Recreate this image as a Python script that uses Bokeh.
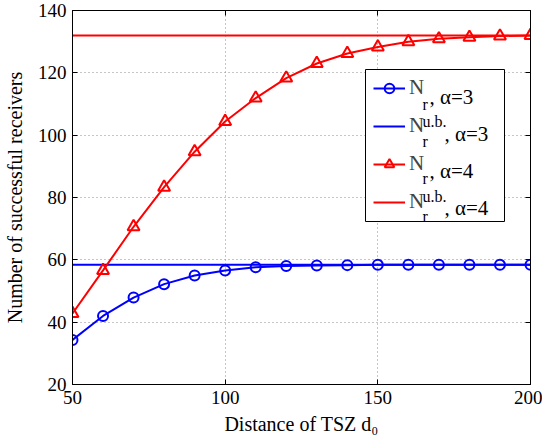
from bokeh.plotting import figure
from bokeh.models import (Range1d, LinearAxis, Legend, LegendItem, Label, FixedTicker, BoxAnnotation)
from bokeh.embed import file_html
from bokeh.resources import INLINE

# ---- data ----
d0 = [50, 60, 70, 80, 90, 100, 110, 120, 130, 140, 150, 160, 170, 180, 190, 200]
nr_a3 = [34.3, 42.0, 47.9, 52.2, 55.0, 56.6, 57.6, 58.0, 58.2, 58.3, 58.4, 58.4, 58.4, 58.4, 58.4, 58.4]
nr_a4 = [42.8, 56.6, 70.6, 83.3, 94.7, 104.4, 111.9, 118.3, 123.0, 126.2, 128.3, 130.0, 130.9, 131.4, 131.8, 132.0]
ub_x = [50, 200]
ub_a3 = [58.4, 58.4]
ub_a4 = [132.0, 132.0]
x_ticks = [50, 100, 150, 200]
y_ticks = [20, 40, 60, 80, 100, 120, 140]

FONT = "Liberation Serif"
BLUE = "#0000FF"
RED = "#FF0000"

FL, FB = 70, 384  # frame left / bottom in canvas px

p = figure(width=542, height=443, output_backend="svg", toolbar_location=None,
           x_range=Range1d(50, 200), y_range=Range1d(20, 140),
           min_border_left=FL, min_border_right=12, min_border_top=10, min_border_bottom=443 - FB)
p.outline_line_color = "black"
p.outline_line_width = 1

for g in (p.xgrid, p.ygrid):
    g.grid_line_color = "#8c8c8c"
    g.grid_line_dash = "1 3"
    g.grid_line_width = 1
p.xgrid.ticker = FixedTicker(ticks=x_ticks)
p.ygrid.ticker = FixedTicker(ticks=y_ticks)

def style_axis(ax, ticks, labels=True):
    ax.ticker = FixedTicker(ticks=ticks)
    ax.axis_line_color = "black"
    ax.axis_line_width = 1
    ax.major_tick_in = 5
    ax.major_tick_out = 0
    ax.major_tick_line_color = "black"
    ax.minor_tick_line_color = None
    ax.major_label_text_font = FONT
    ax.major_label_text_font_size = "19px"
    ax.major_label_text_color = "black"
    ax.axis_label_text_font = FONT
    ax.axis_label_text_font_size = "20px"
    ax.axis_label_text_font_style = "normal"
    ax.axis_label_text_color = "black"
    if not labels:
        ax.major_label_overrides = {t: "" for t in ticks}
        ax.major_label_standoff = 0

style_axis(p.xaxis[0], x_ticks)
style_axis(p.yaxis[0], y_ticks)
p.xaxis[0].axis_label = "Distance of TSZ d\u2080"
p.yaxis[0].axis_label = "Number of successful receivers"
p.xaxis[0].major_label_standoff = 6
p.yaxis[0].major_label_standoff = 6
p.xaxis[0].axis_label_standoff = 6
p.yaxis[0].axis_label_standoff = 9

top_ax = LinearAxis()
style_axis(top_ax, x_ticks, labels=False)
p.add_layout(top_ax, "above")
right_ax = LinearAxis()
style_axis(right_ax, y_ticks, labels=False)
p.add_layout(right_ax, "right")

# ---- series ----
l1 = p.line(d0, nr_a3, line_color=BLUE, line_width=2)
m1 = p.scatter(d0, nr_a3, marker="circle", size=10, line_color=BLUE, line_width=2, fill_alpha=0)
l2 = p.line(ub_x, ub_a3, line_color=BLUE, line_width=2)
l3 = p.line(d0, nr_a4, line_color=RED, line_width=2)
m3 = p.scatter(d0, nr_a4, marker="triangle", size=12, line_color=RED, line_width=2, fill_alpha=0)
l4 = p.line(ub_x, ub_a4, line_color=RED, line_width=2)

# legend box behind
box = BoxAnnotation(left=363 - FL, right=502 - FL, top=FB - 69, bottom=FB - 221,
                    left_units="screen", right_units="screen", top_units="screen", bottom_units="screen",
                    fill_color="white", fill_alpha=1, line_color="black", line_width=1, line_alpha=1,
                    level="underlay")
p.add_layout(box)

legend = Legend(items=[
    LegendItem(label="N", renderers=[l1, m1]),
    LegendItem(label="N", renderers=[l2]),
    LegendItem(label="N", renderers=[l3, m3]),
    LegendItem(label="N", renderers=[l4]),
], location=(293, 162))
legend.padding = 8
legend.margin = 0
legend.spacing = 13
legend.glyph_width = 32
legend.glyph_height = 24
legend.label_height = 24
legend.label_width = 87
legend.label_standoff = 4
legend.border_line_alpha = 0
legend.background_fill_alpha = 0
legend.label_text_font = FONT
legend.label_text_font_size = "21px"
p.add_layout(legend, "center")

def lab(cx, cy, text, size):
    p.add_layout(Label(x=cx - FL, y=FB - cy, x_units="screen", y_units="screen", text=text,
                       text_font=FONT, text_font_size=size, text_baseline="alphabetic",
                       text_color="black"))

rows = [
    (89.0, False, "3"),
    (126.2, True, "3"),
    (163.4, False, "4"),
    (200.6, True, "4"),
]
for line_y, ub, a in rows:
    base = line_y + 7
    if ub:
        lab(420, base - 12, "u.b.", "16px")
        lab(420, base + 8, "r", "16px")
        lab(442, base, ", \u03b1=" + a, "21px")
    else:
        lab(420, base + 8, "r", "16px")
        lab(427, base, ", \u03b1=" + a, "21px")

open("out.html", "w").write(file_html(p, INLINE))
